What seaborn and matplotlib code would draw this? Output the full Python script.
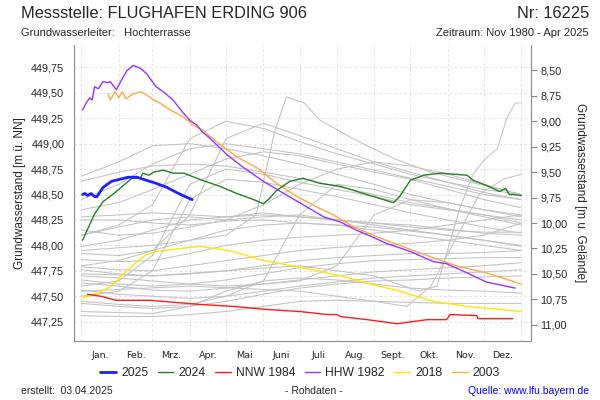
import numpy as np
import pandas as pd
import matplotlib
matplotlib.use('Agg')
import matplotlib.pyplot as plt
import matplotlib.ticker as mticker
import seaborn as sns

# x = Tag im Jahr (0 = 1. Jan.), y = Grundwasserstand [m ü. NN]
ground_level = 458.22
month_days = [0, 31, 59, 90, 120, 151, 181, 212, 243, 273, 304, 334, 365]
month_names = ['Jan.', 'Feb.', 'Mrz.', 'Apr.', 'Mai', 'Juni', 'Juli',
               'Aug.', 'Sept.', 'Okt.', 'Nov.', 'Dez.']
left_ticks = [447.25, 447.5, 447.75, 448.0, 448.25, 448.5, 448.75, 449.0, 449.25, 449.5, 449.75]
right_ticks = [8.5, 8.75, 9.0, 9.25, 9.5, 9.75, 10.0, 10.25, 10.5, 10.75, 11.0]

# coloured years
days_2025 = [1, 3, 5, 8, 11, 13, 18, 25, 32, 39, 46, 54, 62, 71, 79, 86, 92]
lvl_2025 = [448.50, 448.51, 448.49, 448.51, 448.48, 448.48, 448.57, 448.63, 448.65,
            448.67, 448.67, 448.64, 448.61, 448.57, 448.52, 448.48, 448.45]

days_2024 = [1, 6, 11, 18, 27, 35, 42, 49, 51, 56, 60, 68, 76, 85, 98, 115, 129, 143, 151,
             156, 162, 173, 184, 198, 215, 237, 259, 264, 273, 284, 298, 320, 325, 336,
             347, 352, 355, 358, 365]
lvl_2024 = [448.05, 448.18, 448.31, 448.43, 448.51, 448.59, 448.66, 448.66, 448.71, 448.69,
            448.72, 448.74, 448.71, 448.71, 448.65, 448.58, 448.51, 448.45, 448.41,
            448.46, 448.54, 448.63, 448.66, 448.61, 448.58, 448.50, 448.42, 448.48, 448.64,
            448.69, 448.71, 448.69, 448.64, 448.59, 448.53, 448.56, 448.50, 448.50, 448.49]

days_nnw1984 = [5, 16, 29, 57, 98, 126, 154, 181, 204, 212, 215, 237, 262, 287, 303, 306,
                328, 329, 358]
lvl_nnw1984 = [447.52, 447.50, 447.46, 447.46, 447.42, 447.40, 447.37, 447.35, 447.32,
               447.32, 447.30, 447.27, 447.23, 447.27, 447.27, 447.32, 447.31, 447.28, 447.28]

days_hhw1982 = [1, 4, 7, 9, 11, 14, 18, 22, 24, 29, 33, 38, 43, 49, 54, 62, 68, 76, 84, 90,
                96, 100, 107, 121, 134, 151, 168, 184, 201, 215, 228, 242, 253, 273, 292,
                303, 320, 336, 360]
lvl_hhw1982 = [449.33, 449.40, 449.45, 449.43, 449.56, 449.54, 449.61, 449.60, 449.61, 449.53,
               449.62, 449.72, 449.77, 449.74, 449.69, 449.56, 449.51, 449.43, 449.31, 449.23,
               449.18, 449.12, 449.05, 448.89, 448.77, 448.63, 448.51, 448.40, 448.28, 448.23,
               448.15, 448.08, 448.02, 447.94, 447.84, 447.82, 447.73, 447.64, 447.58]

days_2018 = [1, 13, 24, 35, 46, 54, 62, 76, 90, 98, 110, 126, 148, 170, 192, 215, 237, 264,
             292, 320, 347, 365]
lvl_2018 = [447.48, 447.53, 447.59, 447.72, 447.84, 447.91, 447.94, 447.96, 447.98, 447.99,
            447.97, 447.94, 447.86, 447.81, 447.76, 447.70, 447.63, 447.55, 447.45, 447.40,
            447.37, 447.35]

days_2003 = [22, 24, 28, 31, 34, 37, 43, 49, 54, 60, 65, 74, 85, 93, 101, 112, 129, 146, 162,
             179, 195, 209, 226, 242, 264, 287, 311, 336, 365]
lvl_2003 = [449.49, 449.43, 449.51, 449.45, 449.51, 449.44, 449.49, 449.51, 449.48, 449.43,
            449.40, 449.33, 449.26, 449.18, 449.13, 449.02, 448.87, 448.76, 448.61, 448.48,
            448.38, 448.30, 448.18, 448.10, 448.00, 447.90, 447.80, 447.73, 447.62]

# other years (grey), monthly values on month_days
gray_levels = [
    [448.68, 448.82, 448.98, 449.00, 448.95, 448.88, 448.80, 448.70, 448.60, 448.50, 448.42, 448.35, 448.30],
    [448.63, 448.72, 448.78, 448.80, 448.78, 448.72, 448.66, 448.58, 448.50, 448.42, 448.36, 448.30, 448.22],
    [448.10, 448.20, 448.40, 449.05, 449.22, 449.15, 449.02, 448.90, 448.80, 448.70, 448.62, 448.55, 448.50],
    [447.80, 447.85, 447.95, 448.30, 449.05, 449.20, 449.08, 448.95, 448.82, 448.72, 448.62, 448.52, 448.45],
    [447.60, 447.65, 447.90, 448.60, 448.75, 448.70, 448.62, 448.55, 448.48, 448.40, 448.35, 448.30, 448.25],
    [448.35, 448.42, 448.55, 448.70, 448.85, 448.92, 448.88, 448.80, 448.72, 448.65, 448.55, 448.45, 448.37],
    [448.28, 448.30, 448.32, 448.30, 448.28, 448.32, 448.28, 448.25, 448.22, 448.20, 448.16, 448.12, 448.10],
    [448.25, 448.25, 448.22, 448.20, 448.24, 448.25, 448.22, 448.20, 448.15, 448.10, 448.05, 448.00, 447.95],
    [448.10, 448.18, 448.25, 448.28, 448.25, 448.28, 448.30, 448.25, 448.20, 448.15, 448.10, 448.05, 447.99],
    [447.99, 448.05, 448.15, 448.25, 448.28, 448.30, 448.28, 448.25, 448.22, 448.18, 448.15, 448.13, 448.13],
    [447.92, 447.90, 447.95, 448.05, 448.15, 448.20, 448.22, 448.20, 448.18, 448.14, 448.10, 448.05, 448.00],
    [447.86, 447.84, 447.85, 447.92, 448.00, 448.05, 448.08, 448.10, 448.12, 448.15, 448.20, 448.25, 448.30],
    [447.79, 447.76, 447.75, 447.80, 447.85, 447.90, 447.95, 447.98, 448.00, 448.02, 448.05, 448.10, 448.22],
    [447.76, 447.72, 447.70, 447.72, 447.75, 447.80, 447.85, 447.88, 447.90, 447.92, 447.92, 447.93, 447.95],
    [447.66, 447.62, 447.60, 447.62, 447.66, 447.72, 447.78, 447.82, 447.85, 447.86, 447.87, 447.88, 447.88],
    [447.63, 447.60, 447.56, 447.55, 447.58, 447.62, 447.66, 447.70, 447.74, 447.76, 447.78, 447.80, 447.83],
    [447.56, 447.52, 447.50, 447.48, 447.50, 447.55, 447.60, 447.64, 447.68, 447.70, 447.72, 447.74, 447.76],
    [447.43, 447.40, 447.38, 447.40, 447.45, 447.52, 447.58, 447.62, 447.65, 447.66, 447.68, 447.69, 447.70],
    [447.35, 447.34, 447.33, 447.40, 447.55, 447.65, 447.68, 447.66, 447.62, 447.58, 447.56, 447.55, 447.53],
    [447.31, 447.30, 447.30, 447.32, 447.35, 447.40, 447.45, 447.46, 447.45, 447.44, 447.43, 447.43, 447.43],
    [447.50, 447.55, 447.75, 448.45, 448.65, 448.62, 448.55, 448.48, 448.40, 448.32, 448.25, 448.18, 448.12],
    [447.45, 447.42, 447.40, 447.42, 447.50, 447.65, 448.30, 448.60, 448.55, 448.45, 448.36, 448.28, 448.20],
    [447.70, 447.68, 447.65, 447.62, 447.60, 447.62, 447.65, 447.80, 448.30, 448.45, 448.42, 448.35, 448.28],
    [448.45, 448.60, 448.80, 448.95, 449.00, 448.95, 448.90, 448.82, 448.74, 448.66, 448.58, 448.50, 448.45],
    [448.15, 448.10, 448.12, 448.18, 448.25, 448.40, 448.60, 448.75, 448.82, 448.78, 448.70, 448.60, 448.50],
]
# grey years with a sharp rise
gray_peak_days = [0, 59, 120, 145, 160, 170, 185, 198, 230, 260, 290, 330, 365]
gray_peak_lvl = [447.95, 448.00, 448.10, 448.30, 449.10, 449.46, 449.40, 449.23, 449.02, 448.85, 448.72, 448.60, 448.50]
gray_late_days = [0, 59, 120, 181, 243, 280, 295, 305, 315, 325, 335, 345, 353, 360, 365]
gray_late_lvl = [447.72, 447.70, 447.75, 447.80, 447.70, 447.55, 447.60, 448.00, 448.40, 448.70, 448.85, 448.95, 449.25, 449.40, 449.40]
gray_autumn_days = [0, 90, 181, 243, 270, 290, 310, 330, 350, 365]
gray_autumn_lvl = [447.55, 447.60, 447.55, 447.45, 447.40, 447.60, 448.05, 448.50, 448.65, 448.70]

rows = []
for i, lv in enumerate(gray_levels):
    rows += [(i, d, v) for d, v in zip(month_days, lv)]
for i, (dd, lv) in enumerate([(gray_peak_days, gray_peak_lvl), (gray_late_days, gray_late_lvl),
                              (gray_autumn_days, gray_autumn_lvl)]):
    rows += [(100 + i, d, v) for d, v in zip(dd, lv)]
gray = pd.DataFrame(rows, columns=['unit', 'day', 'level'])

sns.set_style('white')
plt.rcParams['font.family'] = ['Liberation Sans', 'DejaVu Sans']

fig = plt.figure(figsize=(6, 4), dpi=100)
ax = fig.add_axes([74 / 600, 59 / 400, (530.7 - 74) / 600, (341 - 45) / 400])

sns.lineplot(data=gray, x='day', y='level', units='unit', estimator=None, color='#C2C2C2',
             lw=0.75, sort=False, legend=False, ax=ax)

series = [
    ('2025', days_2025, lvl_2025, '#1E1EFF', 2.0),
    ('2024', days_2024, lvl_2024, '#227F22', 1.0),
    ('NNW 1984', days_nnw1984, lvl_nnw1984, '#FF1A1A', 1.0),
    ('HHW 1982', days_hhw1982, lvl_hhw1982, '#9933FF', 1.0),
    ('2018', days_2018, lvl_2018, '#FFE600', 1.0),
    ('2003', days_2003, lvl_2003, '#FFA845', 1.0),
]
for name, d, v, c, w in reversed(series):
    sns.lineplot(x=d, y=v, color=c, lw=w, sort=False, label=name, ax=ax)
ax.get_legend().remove()

ax.set_xlim(-6.1, 372.8)
ax.set_ylim(447.06, 449.97)
ax.set_xlabel('')
ax.set_ylabel('')

fmt = mticker.FuncFormatter(lambda v, p: f'{v:.2f}'.replace('.', ','))
ax.set_yticks(left_ticks)
ax.yaxis.set_major_formatter(fmt)
ax.set_xticks(month_days)
ax.set_xticklabels([])
mids = [(a + b) / 2 for a, b in zip(month_days[:-1], month_days[1:])]
ax.set_xticks(mids, minor=True)
ax.set_xticklabels(month_names, minor=True, fontsize=6.8, family='DejaVu Sans', color='#222222')
ax.tick_params(axis='x', which='major', length=4, color='#888888', direction='out')
ax.tick_params(axis='x', which='minor', length=0, pad=7)
ax.tick_params(axis='y', length=4, color='#888888', labelsize=7.8, pad=3, direction='out')
ax.grid(True, color='#DDDDDD', ls=(0, (3, 3)), lw=0.6)
for s in ['left', 'bottom']:
    ax.spines[s].set_color('#888888')
ax.spines['top'].set_visible(False)
ax.spines['right'].set_visible(False)

sec = ax.secondary_yaxis('right', functions=(lambda v: ground_level - v, lambda v: ground_level - v))
sec.set_yticks(right_ticks)
sec.yaxis.set_major_formatter(fmt)
sec.tick_params(axis='y', length=4, color='#888888', labelsize=7.8, pad=3, direction='out')
sec.spines['right'].set_color('#888888')

fig.text(21 / 600, 1 - 13 / 400, 'Messstelle: FLUGHAFEN ERDING 906', fontsize=11.8,
         va='center', ha='left')
fig.text(589 / 600, 1 - 13 / 400, 'Nr: 16225', fontsize=11.8, va='center', ha='right')
fig.text(21 / 600, 1 - 33 / 400, 'Grundwasserleiter:   Hochterrasse', fontsize=8, va='center', ha='left')
fig.text(589 / 600, 1 - 33 / 400, 'Zeitraum: Nov 1980 - Apr 2025', fontsize=8, va='center', ha='right')
fig.text(20 / 600, 1 - 193 / 400, 'Grundwasserstand [m ü. NN]', fontsize=8.5, rotation=90,
         va='center', ha='center')
fig.text(580 / 600, 1 - 193 / 400, 'Grundwasserstand [m u. Gelände]', fontsize=8.5, rotation=270,
         va='center', ha='center')

handles, labels = ax.get_legend_handles_labels()
order = [labels.index(n) for n, *_ in series]
fig.legend([handles[i] for i in order], [labels[i] for i in order], loc='center',
           bbox_to_anchor=(300 / 600, 1 - 373 / 400), ncol=6, frameon=False, fontsize=8.7,
           handlelength=1.3, handletextpad=0.4, columnspacing=0.8)

fig.text(21 / 600, 1 - 391 / 400, 'erstellt:  03.04.2025', fontsize=7.5, va='center', ha='left')
fig.text(314 / 600, 1 - 391 / 400, '- Rohdaten -', fontsize=7.5, va='center', ha='center')
fig.text(589 / 600, 1 - 391 / 400, 'Quelle: www.lfu.bayern.de', fontsize=7.5, va='center', ha='right',
         color='#0000FF')

fig.savefig('out.png', dpi=100)
